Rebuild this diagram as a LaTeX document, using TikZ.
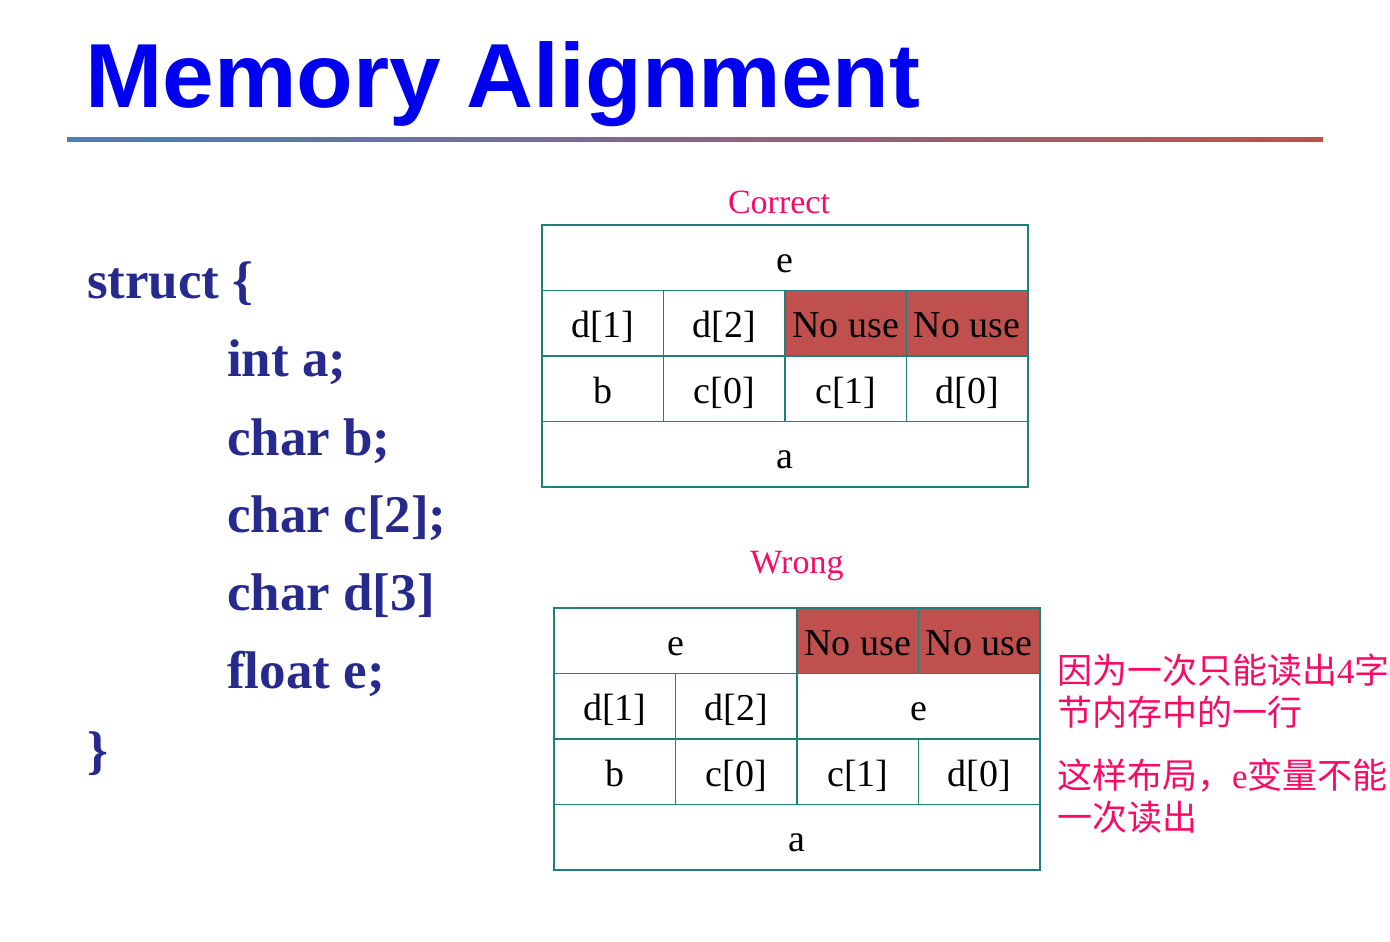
\documentclass[tikz,border=0pt]{standalone}
\usepackage{fontspec}
\setmainfont{Liberation Serif}
\newfontfamily\titlefont{Liberation Sans}
\newfontfamily\cjk{Noto Sans CJK SC}
\usetikzlibrary{shadings}
\definecolor{titleblue}{RGB}{0,0,240}
\definecolor{codeblue}{RGB}{38,42,140}
\definecolor{tealc}{RGB}{30,128,120}
\definecolor{nouse}{RGB}{192,80,77}
\definecolor{pinkc}{RGB}{250,10,100}
\definecolor{lineblue}{RGB}{74,126,187}
\definecolor{linered}{RGB}{192,80,77}
\tikzset{
  cell/.style={draw=tealc, line width=1.6pt, minimum height=65.5pt, minimum width=121.5pt,
    inner sep=0pt, text height=33pt, text depth=4pt, font=\fontsize{38}{40}\selectfont},
  halfcell/.style={cell, minimum width=243pt},
  fullcell/.style={cell, minimum width=486pt},
  nousecell/.style={cell, fill=nouse},
  code/.style={anchor=base west, inner sep=0pt, text=codeblue, font=\fontsize{53}{56}\selectfont\bfseries},
  lbl/.style={inner sep=0pt, text=pinkc, font=\fontsize{34}{36}\selectfont},
  note/.style={anchor=base west, inner sep=0pt, text=pinkc, font=\fontsize{35}{38}\selectfont\cjk}
}
\begin{document}
\begin{tikzpicture}[x=1pt,y=-1pt]
\useasboundingbox (0,0) rectangle (1390,942);
% title
\node[anchor=base west, inner sep=0pt, text=titleblue, font=\fontsize{91}{96}\selectfont\titlefont\bfseries] (title) at (85,107) {\scalebox{1.02}[1]{Memory Alignment}};
\shade[left color=lineblue, right color=linered] (67,137.5) rectangle (1323,141);
% code
\node[code] (s0) at (87,298) {struct \{};
\node[code] (s1) at (227,376) {int a;};
\node[code] (s2) at (227,455) {char b;};
\node[code] (s3) at (227,532) {char c[2];};
\node[code] (s4) at (227,610) {char d[3]};
\node[code] (s5) at (227,688) {float e;};
\node[code] (s6) at (87,768) {\}};
% correct table
\node[lbl] (correct) at (779,202) {Correct};
\node[fullcell] (ce) at (785,257.75) {e};
\node[cell] (cd1) at (602.75,323.25) {d[1]};
\node[cell] (cd2) at (724.25,323.25) {d[2]};
\node[nousecell] (cn1) at (845.75,323.25) {No use};
\node[nousecell] (cn2) at (967.25,323.25) {No use};
\node[cell] (cb) at (602.75,388.75) {b};
\node[cell] (cc0) at (724.25,388.75) {c[0]};
\node[cell] (cc1) at (845.75,388.75) {c[1]};
\node[cell] (cd0) at (967.25,388.75) {d[0]};
\node[fullcell] (ca) at (785,454.25) {a};
% wrong table
\node[lbl] (wrong) at (797,566) {Wrong};
\node[halfcell] (we1) at (675.5,640.75) {e};
\node[nousecell] (wn1) at (857.75,640.75) {No use};
\node[nousecell] (wn2) at (979.25,640.75) {No use};
\node[cell] (wd1) at (614.75,706.25) {d[1]};
\node[cell] (wd2) at (736.25,706.25) {d[2]};
\node[halfcell] (we2) at (918.5,706.25) {e};
\node[cell] (wb) at (614.75,771.75) {b};
\node[cell] (wc0) at (736.25,771.75) {c[0]};
\node[cell] (wc1) at (857.75,771.75) {c[1]};
\node[cell] (wd0) at (979.25,771.75) {d[0]};
\node[fullcell] (wa) at (797,837.25) {a};
% notes
\node[note] (n1) at (1057,683) {因为一次只能读出{\rmfamily 4}字};
\node[note] (n2) at (1057,725) {节内存中的一行};
\node[note] (n3) at (1057,788) {这样布局，{\rmfamily e}变量不能};
\node[note] (n4) at (1057,830) {一次读出};
\end{tikzpicture}
\end{document}
